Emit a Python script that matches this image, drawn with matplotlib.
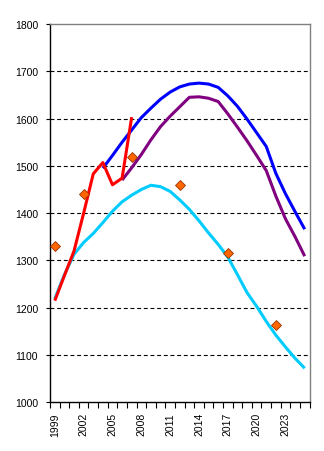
import matplotlib
matplotlib.use("Agg")
import matplotlib.pyplot as plt
from matplotlib.ticker import FixedLocator, NullFormatter

plt.rcParams['font.family'] = ['Liberation Sans', 'DejaVu Sans']

# Observed series (red)
red_years = [1999, 2000, 2001, 2002, 2003, 2004, 2005, 2006, 2007]
red_vals = [1215, 1268, 1320, 1400, 1483, 1507, 1460, 1474, 1603]

# Upper projection (blue)
blue_years = list(range(2004, 2026))
blue_vals = [1495, 1522, 1550, 1576, 1602, 1622, 1641, 1656, 1667, 1673, 1675,
             1673, 1666, 1648, 1626, 1599, 1570, 1541, 1484, 1441, 1403, 1366]

# Middle projection (purple)
purple_years = list(range(2006, 2026))
purple_vals = [1470, 1496, 1524, 1555, 1583, 1605, 1625, 1645, 1646, 1643,
               1636, 1610, 1582, 1553, 1522, 1490, 1436, 1388, 1350, 1309]

# Lower projection (light blue)
cyan_years = list(range(1999, 2026))
cyan_vals = [1219, 1270, 1313, 1338, 1357, 1380, 1404, 1424, 1438, 1450, 1459,
             1456, 1446, 1428, 1408, 1384, 1358, 1334, 1307, 1270, 1232, 1203,
             1171, 1142, 1117, 1093, 1072]

# Point estimates (diamonds)
pt_years = [1999, 2002, 2007, 2012, 2017, 2022]
pt_vals = [1330, 1440, 1518, 1460, 1315, 1163]

y_ticks = [1000, 1100, 1200, 1300, 1400, 1500, 1600, 1700, 1800]
x_label_years = [1999, 2002, 2005, 2008, 2011, 2014, 2017, 2020, 2023]

W, H = 324, 452
fig = plt.figure(figsize=(W / 100, H / 100), dpi=100)
left, right, top, bottom = 50, 309.5, 25, 403.3
ax = fig.add_axes([left / W, (H - bottom) / H, (right - left) / W, (bottom - top) / H])

for yv in y_ticks[1:-1]:
    ax.axhline(yv, color='black', lw=0.8, ls=(0, (3.5, 2.5)), zorder=1)

lw = 2.2
ax.plot(cyan_years, cyan_vals, color='#00CCFF', lw=lw, zorder=3, solid_capstyle='butt')
ax.plot(blue_years, blue_vals, color='#0000FF', lw=lw, zorder=3, solid_capstyle='butt')
ax.plot(purple_years, purple_vals, color='#800080', lw=lw, zorder=3, solid_capstyle='butt')
ax.plot(red_years, red_vals, color='#FF0000', lw=lw, zorder=4, solid_capstyle='butt')
ax.plot(pt_years, pt_vals, ls='none', marker='D', markersize=5.2,
        markerfacecolor='#FF6600', markeredgecolor='#993300', markeredgewidth=0.6, zorder=5)

ax.set_xlim(1998.5, 2025.5)
ax.set_ylim(1000, 1800)

ax.set_yticks(y_ticks)
ax.set_yticklabels([str(v) for v in y_ticks], fontsize=7.5)
ax.tick_params(axis='y', direction='out', length=3, width=0.8, pad=5.5, colors='black')

ax.xaxis.set_major_locator(FixedLocator(x_label_years))
ax.set_xticklabels([str(v) for v in x_label_years], rotation=90, fontsize=7.5)
ax.xaxis.set_minor_locator(FixedLocator([y + 0.5 for y in range(1998, 2026)]))
ax.xaxis.set_minor_formatter(NullFormatter())
ax.tick_params(axis='x', which='major', length=0, pad=7)
ax.tick_params(axis='x', which='minor', direction='out', length=4, width=0.8)

for side in ('left', 'bottom'):
    ax.spines[side].set_color('black')
    ax.spines[side].set_linewidth(1.0)
for side in ('top', 'right'):
    ax.spines[side].set_color('#808080')
    ax.spines[side].set_linewidth(1.0)

fig.savefig('out.png', dpi=100, facecolor='white')
